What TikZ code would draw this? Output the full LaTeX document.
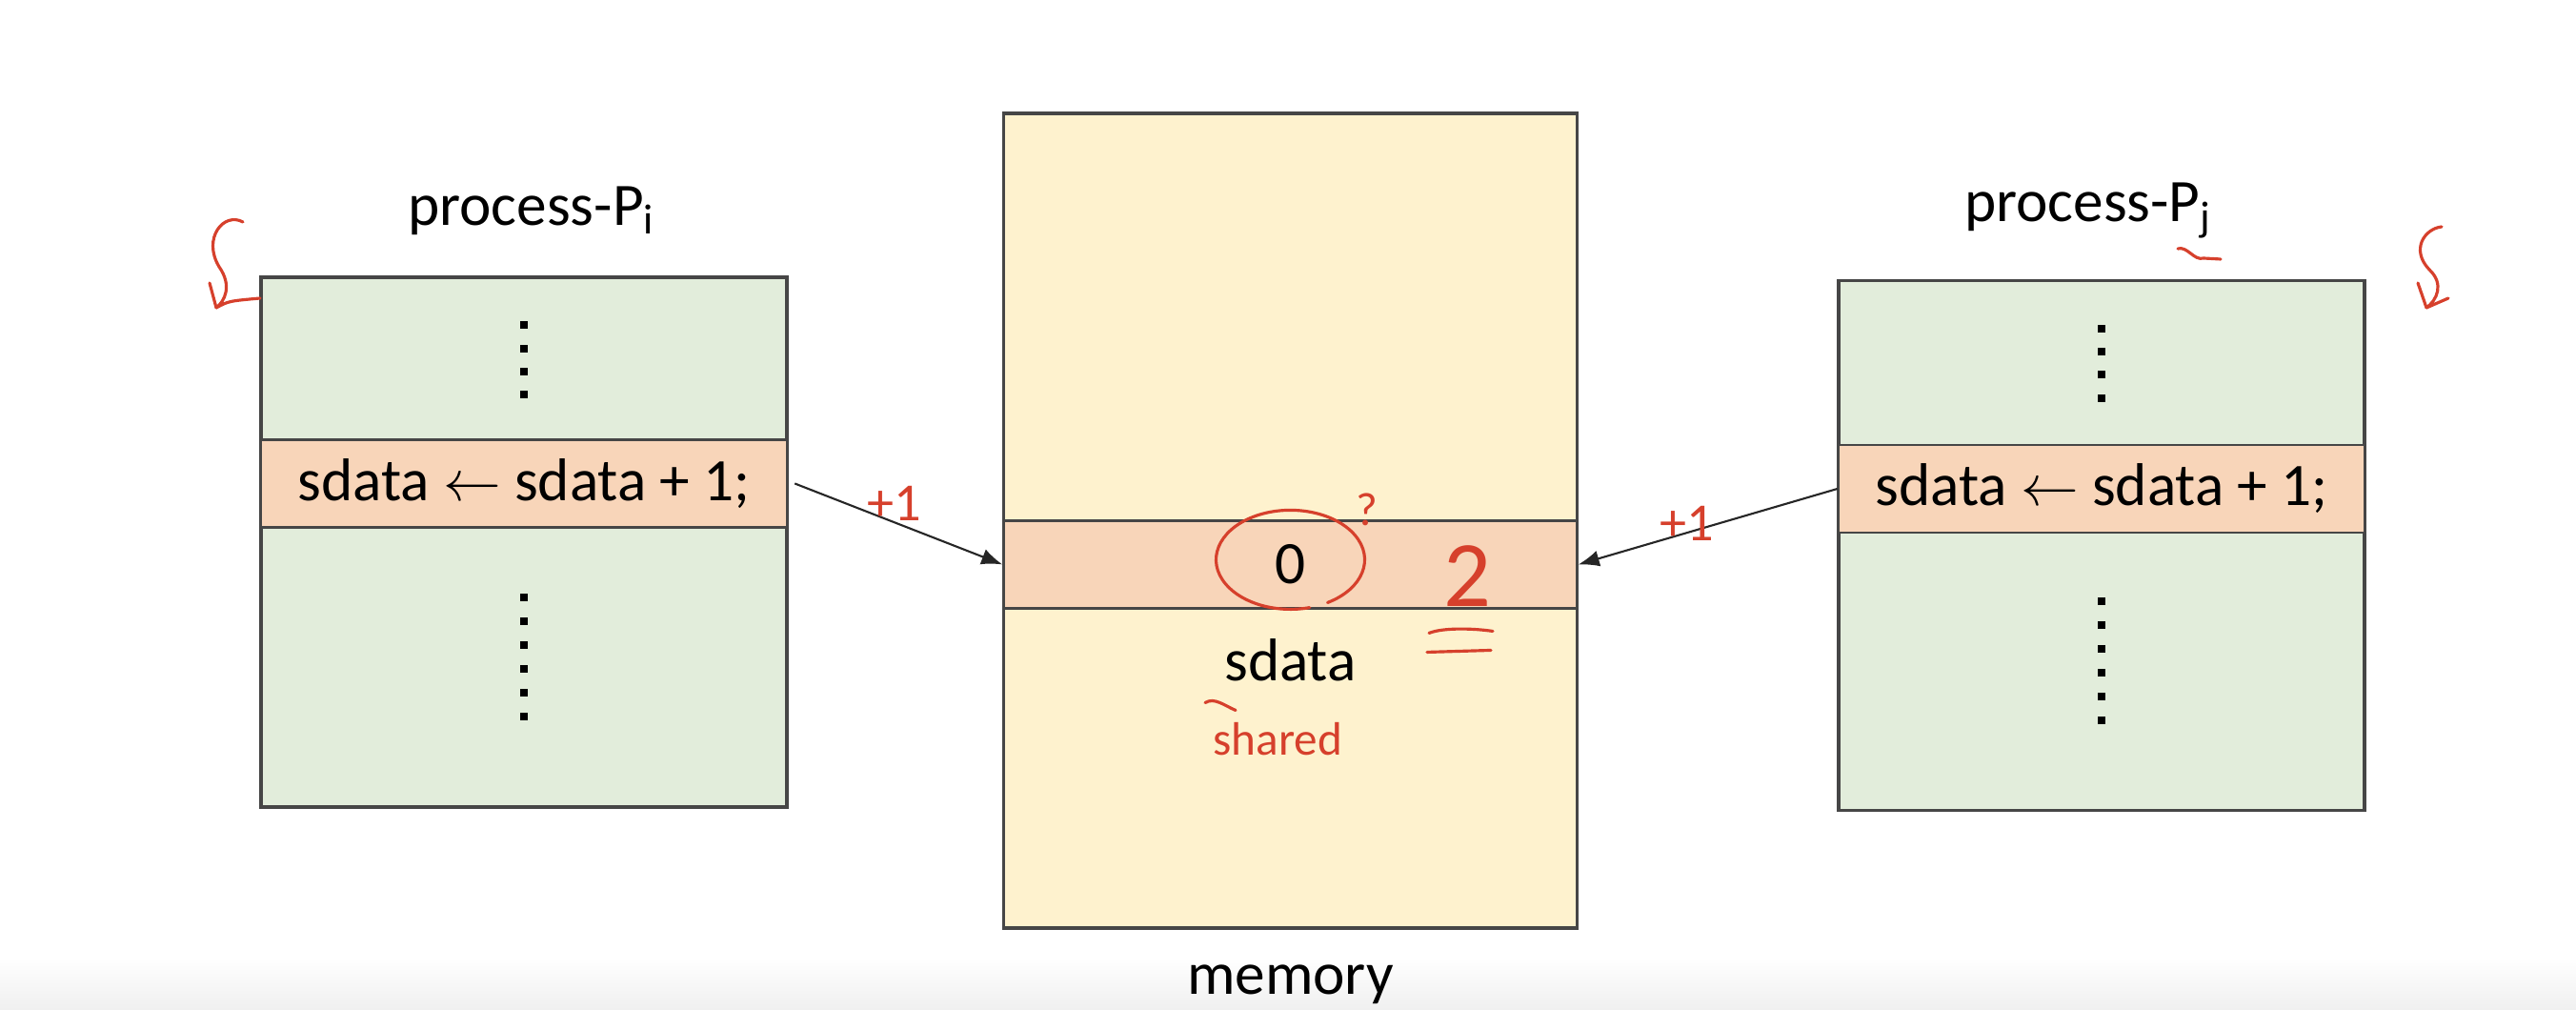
\documentclass[tikz,border=0pt]{standalone}
\usepackage{fontspec}
\setmainfont{Carlito}
\usetikzlibrary{arrows.meta, positioning, calc}

\definecolor{procgreen}{RGB}{226,237,219}
\definecolor{sharedpeach}{RGB}{248,213,185}
\definecolor{memcream}{RGB}{254,242,206}
\definecolor{edgegray}{RGB}{70,70,70}
\definecolor{inkred}{RGB}{214,64,44}

\tikzset{
  procbox/.style={draw=edgegray, line width=1pt, rectangle, fill=procgreen, minimum width=5.52cm, minimum height=5.56cm},
  membox/.style={draw=edgegray, line width=1pt, rectangle, fill=memcream, minimum width=6.02cm, minimum height=8.55cm},
  codeband/.style={draw=edgegray, line width=0.7pt, rectangle, fill=sharedpeach, inner sep=0pt, minimum height=0.92cm},
  lbl/.style={inner sep=0pt},
  conn/.style={draw=black!85, line width=0.6pt, -{Latex[length=0.22cm,width=0.17cm]}},
  ink/.style={draw=inkred, line width=0.9pt, line cap=round, line join=round},
  inktext/.style={text=inkred, inner sep=0pt, font=\fontsize{16}{18}\selectfont},
}

\begin{document}
\begin{tikzpicture}[font=\fontsize{18}{21}\selectfont]
    \clip (0,0) rectangle (27.04,10.60);
    \shade[top color=white, bottom color=black!6] (0,0) rectangle (27.04,0.55);

    % the two processes and the memory
    \node [procbox] (pi) at (5.50,4.91) {};
    \node [membox] (mem) at (13.545,5.135) {};
    \node [procbox] (pj) at (22.06,4.875) {};

    \node [codeband, minimum width=5.52cm, below=1.71cm of pi.north] (bandi) {sdata $\leftarrow$ sdata + 1;};
    \node [codeband, minimum width=6.02cm, below=4.28cm of mem.north] (bandm) {0};
    \node [codeband, minimum width=5.52cm, below=1.73cm of pj.north] (bandj) {sdata $\leftarrow$ sdata + 1;};

    \node [lbl, above=0.42cm of pi, xshift=0.08cm] (pilbl) {process-P\textsubscript{i}};
    \node [lbl, above=0.42cm of pj, xshift=-0.14cm] (pjlbl) {process-P\textsubscript{j}};
    \node [lbl, below=0.30cm of bandm] (sdlbl) {sdata};
    \node [lbl, below=0.36cm of mem] (memlbl) {memory};

    % elided code
    \foreach \proc in {pi, pj} {
      \foreach \k in {0,...,3}
        \fill ($(\proc.north)+(-0.04,-0.48-0.243*\k)$) rectangle ++(0.08,-0.08);
      \foreach \k in {0,...,5}
        \fill ($(\proc.north)+(-0.04,-3.34-0.25*\k)$) rectangle ++(0.08,-0.08);
    }

    \draw [conn] ([xshift=0.07cm]bandi.east) -- node[inktext, pos=0.48, yshift=0.2cm] (inci) {+1} (bandm.west);
    \draw [conn] (bandj.west) -- node[inktext, pos=0.58, yshift=0.1cm] (incj) {+1} (bandm.east);

    % pen notes
    \draw [ink] ($(bandm.center)+(0.39,-0.40)$) arc[start angle=-60, end angle=285, x radius=0.78cm, y radius=0.52cm];
    \node [inktext, font=\fontsize{14}{16}\selectfont] (qmark) at ($(bandm.center)+(0.80,0.58)$) {?};
    \node [inktext, font=\fontsize{28}{30}\selectfont] (two) at ($(bandm.center)+(1.855,-0.12)$) {2};
    \draw [ink] ($(two)+(-0.40,-0.60)$) .. controls +(0.15,0.06) and +(-0.2,0.03) .. ($(two)+(0.27,-0.58)$);
    \draw [ink] ($(two)+(-0.42,-0.80)$) -- ($(two)+(0.25,-0.78)$);
    \node [inktext, font=\fontsize{14}{16}\selectfont, below=0.42cm of sdlbl, xshift=-0.13cm] (shr) {shared};
    \draw [ink] ($(shr.north west)+(-0.08,0.20)$) .. controls +(0.1,0.06) and +(-0.12,0.05) .. ++(0.32,-0.08);

    \draw [ink] (2.55,8.27) .. controls (2.35,8.38) and (2.12,8.10) .. (2.30,7.80)
                .. controls (2.44,7.60) and (2.36,7.44) .. (2.27,7.37)
                .. controls (2.40,7.44) .. (2.73,7.47);
    \draw [ink] (2.20,7.63) -- (2.27,7.37);
    \draw [ink] (25.63,8.22) .. controls (25.45,8.20) and (25.30,7.98) .. (25.50,7.77)
                .. controls (25.66,7.62) and (25.58,7.45) .. (25.47,7.37)
                -- (25.70,7.47);
    \draw [ink] (25.38,7.63) -- (25.47,7.37);
    \draw [ink] (22.86,7.99) .. controls (22.96,8.02) and (23.03,7.86) .. (23.13,7.89) -- (23.31,7.88);
\end{tikzpicture}
\end{document}
